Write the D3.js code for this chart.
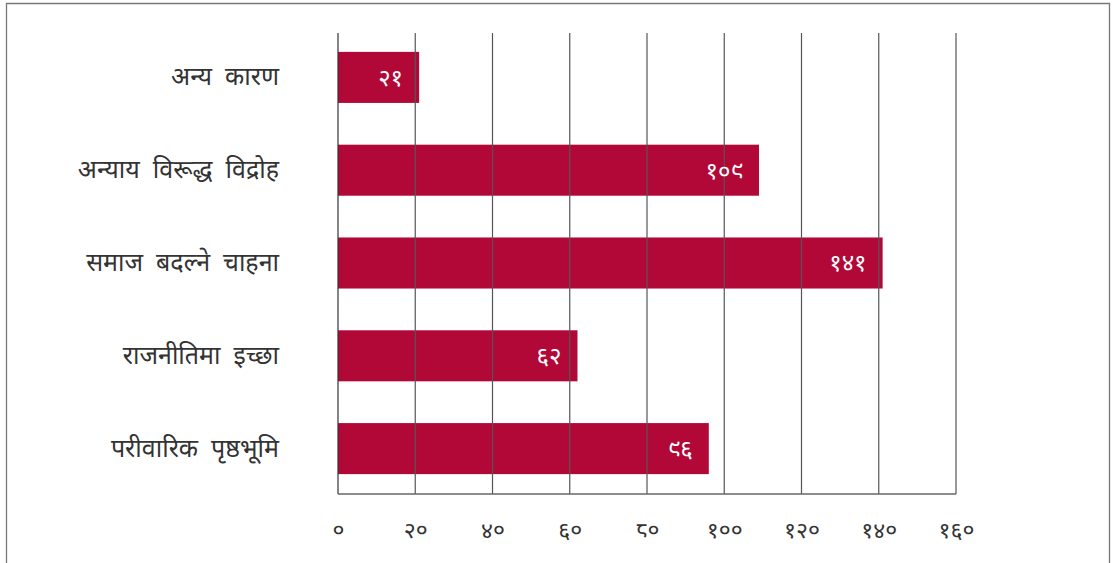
<!DOCTYPE html>
<html lang="ne">
<head>
<meta charset="UTF-8">
<script src="https://d3js.org/d3.v7.min.js"></script>
<title>chart</title>
<style>
  body { margin: 0; background: #fff; }
  text { font-family: "Noto Sans", "DejaVu Sans", sans-serif; }
</style>
</head>
<body>
<div id="canvas"></div>
<script>
  const categories = ["अन्य  कारण", "अन्याय  विरूद्ध  विद्रोह", "समाज  बदल्ने  चाहना", "राजनीतिमा  इच्छा", "परीवारिक  पृष्ठभूमि"]
  const values = [21, 109, 141, 62, 96]
  const valueLabels = ["२१", "१०९", "१४१", "६२", "९६"]
  const tickValues = [0, 20, 40, 60, 80, 100, 120, 140, 160]
  const tickLabels = ["०", "२०", "४०", "६०", "८०", "१००", "१२०", "१४०", "१६०"]

  const svg = d3.select("#canvas").append("svg").attr("width", 1114).attr("height", 563)

  // frame
  svg.append("path")
     .attr("d", "M6.5,570 V3.5 H1109.5 V570")
     .attr("fill", "none").attr("stroke", "#777").attr("stroke-width", 1.3)

  const x = d3.scaleLinear().domain([0, 160]).range([338, 956])
  const y = d3.scaleBand().domain(categories).range([31, 495]).paddingInner(0.45).paddingOuter(0.225)

  svg.selectAll(".bar").data(values)
     .enter().append("rect")
     .attr("x", x(0))
     .attr("y", (d, i) => y(categories[i]))
     .attr("width", d => x(d) - x(0))
     .attr("height", y.bandwidth())
     .attr("fill", "#b20838")

  // grid on top of bars
  svg.selectAll(".grid").data(tickValues)
     .enter().append("line")
     .attr("x1", d => x(d)).attr("x2", d => x(d))
     .attr("y1", 33).attr("y2", 494)
     .attr("stroke", (d, i) => i == 0 ? "#333" : "#555")
     .attr("stroke-width", 1.2)
  svg.append("line")
     .attr("x1", x(0)).attr("x2", x(160)).attr("y1", 494).attr("y2", 494)
     .attr("stroke", "#666").attr("stroke-width", 1.3)

  const xAxis = d3.axisBottom(x).tickValues(tickValues).tickSize(0).tickFormat((d, i) => tickLabels[i])
  const gx = svg.append("g").attr("transform", "translate(0,530)").call(xAxis)
  gx.select(".domain").remove()
  gx.selectAll("text").attr("font-size", 23).attr("fill", "#333").attr("y", 0).attr("dy", "0.35em")

  const yAxis = d3.axisLeft(y).tickSize(0)
  const gy = svg.append("g").attr("transform", "translate(279,0)").call(yAxis)
  gy.select(".domain").remove()
  gy.selectAll("text").attr("font-size", 25).attr("fill", "#333").attr("x", 0).style("white-space", "pre")

  svg.selectAll(".val").data(values)
     .enter().append("text")
     .attr("x", d => x(d) - 16)
     .attr("y", (d, i) => y(categories[i]) + y.bandwidth() / 2)
     .attr("dy", "0.35em")
     .attr("text-anchor", "end")
     .attr("font-size", 24)
     .attr("fill", "#fff")
     .text((d, i) => valueLabels[i])
</script>
</body>
</html>
